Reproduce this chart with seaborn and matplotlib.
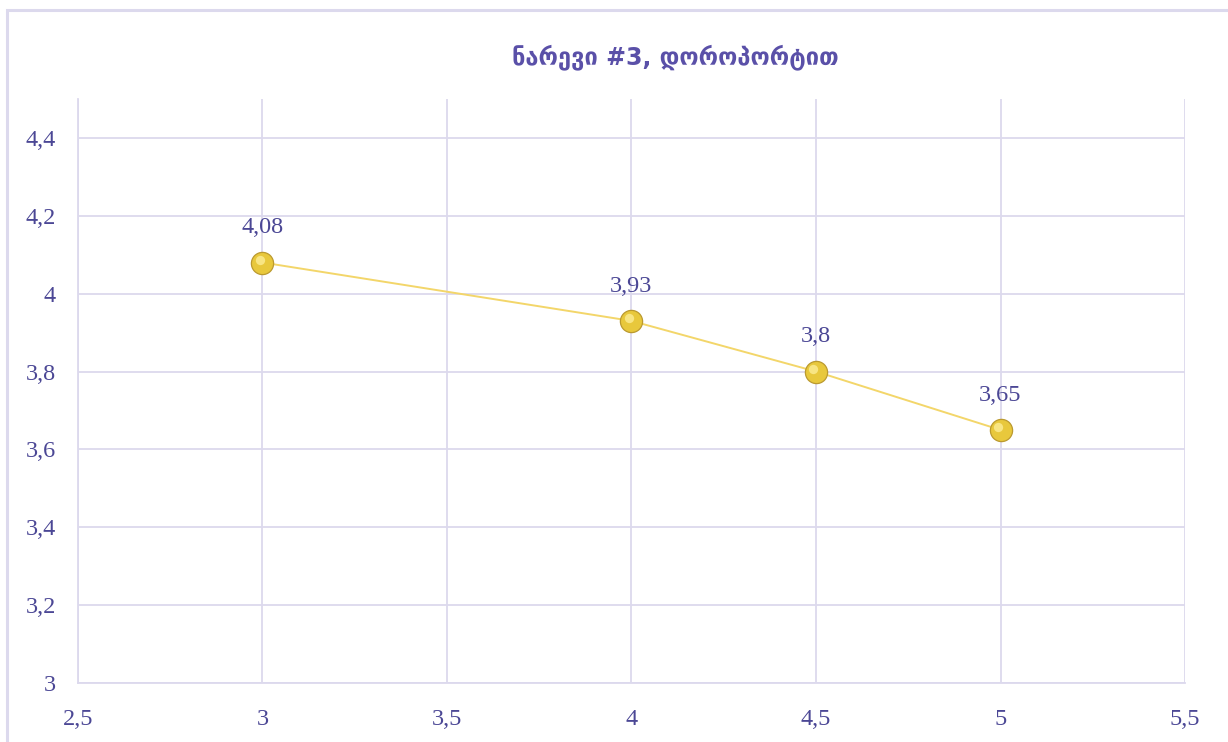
import seaborn as sns
import matplotlib.pyplot as plt
import matplotlib.transforms as mtransforms
from matplotlib.patches import Rectangle
from matplotlib.ticker import FuncFormatter
import pandas as pd

# data
x_vals = [3, 4, 4.5, 5]
y_vals = [4.08, 3.93, 3.8, 3.65]
point_labels = ["4,08", "3,93", "3,8", "3,65"]
x_ticks = [2.5, 3, 3.5, 4, 4.5, 5, 5.5]
y_ticks = [3, 3.2, 3.4, 3.6, 3.8, 4, 4.2, 4.4]
title = "ნარევი #3, დოროპორტით"

df = pd.DataFrame({"x": x_vals, "y": y_vals})

grid_col = "#dcd9ed"
text_col = "#4b4795"
serif = ["Liberation Serif", "DejaVu Serif"]

sns.set_style("white")
fig = plt.figure(figsize=(12.28, 7.42), dpi=100)
ax = fig.add_axes([0.0635, 0.0795, 0.9015, 0.7871])

# outer chart border
fig.patches.append(Rectangle((0.0057, -0.02), 1.0, 0.9865 + 0.02, transform=fig.transFigure,
                             fill=False, edgecolor=grid_col, linewidth=2.2, zorder=0))

sns.lineplot(data=df, x="x", y="y", ax=ax, color="#f3d66a", linewidth=1.4,
             marker="o", markersize=16, markerfacecolor="#e8c83c",
             markeredgecolor="#bb9a30", markeredgewidth=0.9, zorder=3)
# small highlight on the balls
hl = mtransforms.offset_copy(ax.transData, fig=fig, x=-2.0, y=2.0, units="points")
ax.scatter(x_vals, y_vals, s=45, color="#f8e583", transform=hl, zorder=4, linewidths=0)

for xv, yv, lab in zip(x_vals, y_vals, point_labels):
    ax.annotate(lab, (xv, yv), xytext=(0, 25), textcoords="offset points",
                ha="center", va="center", fontsize=17.5, color=text_col, family=serif)

ax.set_xlim(2.5, 5.5)
ax.set_ylim(3, 4.5)
ax.set_xticks(x_ticks)
ax.set_yticks(y_ticks)
fmt = FuncFormatter(lambda v, p: ("%g" % v).replace(".", ","))
ax.xaxis.set_major_formatter(fmt)
ax.yaxis.set_major_formatter(fmt)
ax.tick_params(axis="both", length=0, labelsize=17.5, labelcolor=text_col)
ax.tick_params(axis="x", pad=19)
ax.tick_params(axis="y", pad=16)
for lab in ax.get_xticklabels() + ax.get_yticklabels():
    lab.set_family(serif)

ax.grid(True, color=grid_col, linewidth=1.3)
ax.set_axisbelow(True)
for side in ["top", "right"]:
    ax.spines[side].set_visible(False)
for side in ["left", "bottom"]:
    ax.spines[side].set_color(grid_col)
    ax.spines[side].set_linewidth(1.3)
ax.set_xlabel("")
ax.set_ylabel("")

fig.text(0.55, 0.923, title, ha="center", va="center", fontsize=17,
         fontweight="bold", color="#5a50a8", family=["DejaVu Sans"])

fig.savefig("out.png", dpi=100)
